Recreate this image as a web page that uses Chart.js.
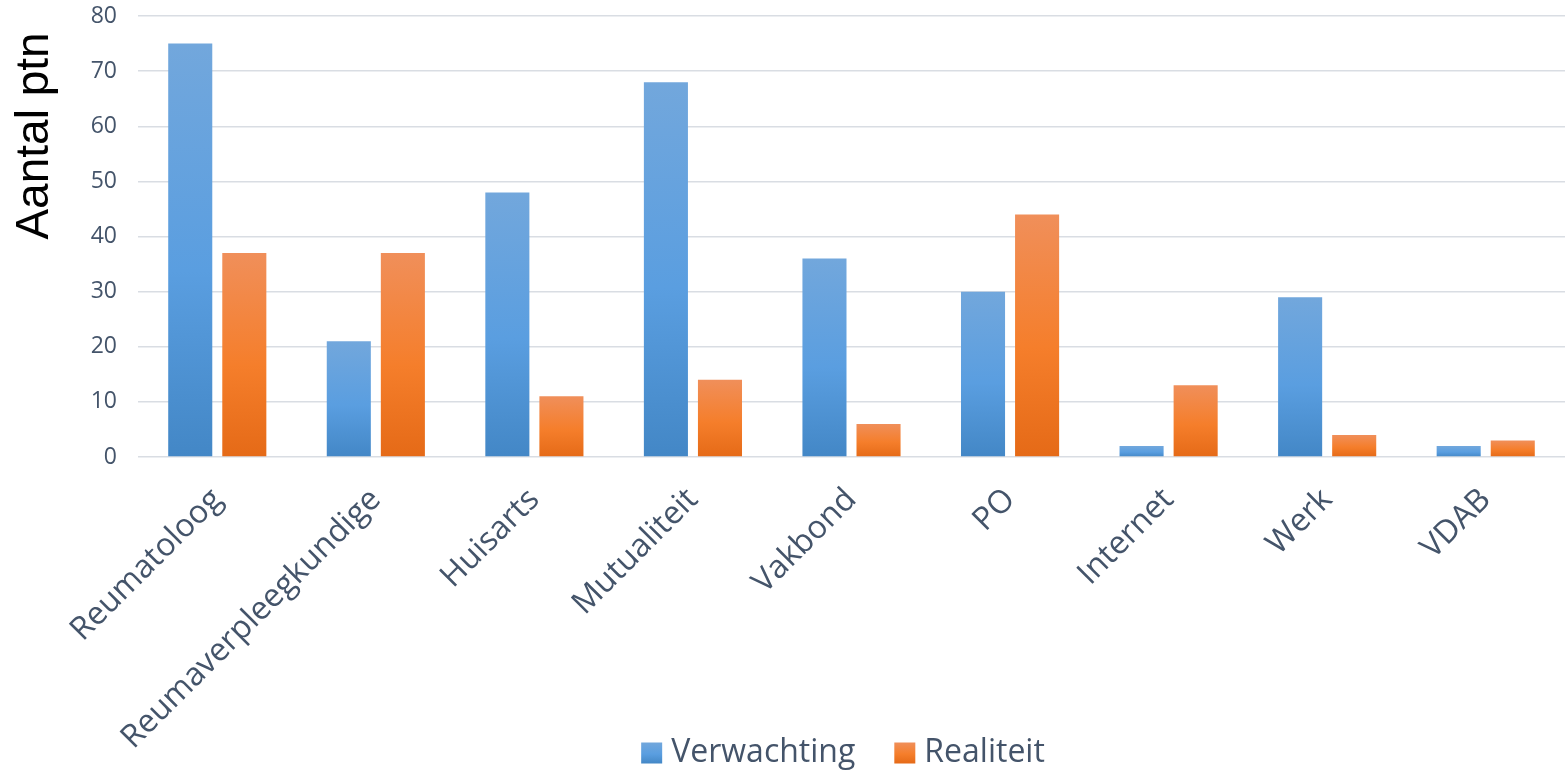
<!DOCTYPE html>
<html>
<head>
<meta charset="utf-8">
<script src="https://cdn.jsdelivr.net/npm/chart.js@4/dist/chart.umd.min.js"></script>
<style>
  html, body { margin:0; padding:0; background:#fff; }
  canvas { display:block; }
</style>
</head>
<body>
<canvas id="c" width="1565" height="772"></canvas>
<script>
// data
const categories = ["Reumatoloog","Reumaverpleegkundige","Huisarts","Mutualiteit","Vakbond","PO","Internet","Werk","VDAB"];
const verwachting = [75, 21, 48, 68, 36, 30, 2, 29, 2];
const realiteit = [37, 37, 11, 14, 6, 44, 13, 4, 3];
const seriesNames = ["Verwachting", "Realiteit"];
const yTitle = "Aantal ptn";

const TXT = "#44546a";
const BLUE = ["#72a7dc", "#5a9ee0", "#4387c6"];
const ORANGE = ["#f08f5a", "#f57e2b", "#e56a17"];
const FONT = "'Open Sans', sans-serif";

function grad(c, top, base, stops){
  const g = c.createLinearGradient(0, top, 0, base);
  g.addColorStop(0, stops[0]); g.addColorStop(0.55, stops[1]); g.addColorStop(1, stops[2]);
  return g;
}

// per-bar vertical gradient, lighter at the top
function barFill(stops){
  return function(ctx){
    const chart = ctx.chart;
    if(ctx.type !== "data" || !chart.chartArea || !chart.scales.y) return stops[1];
    const y = chart.scales.y;
    const top = y.getPixelForValue(ctx.raw), base = y.getPixelForValue(0);
    if(!isFinite(top) || !isFinite(base) || base - top < 1) return stops[1];
    return grad(chart.ctx, top, base, stops);
  };
}

const yTitlePlugin = {
  id: "yTitle",
  afterDraw(chart){
    const c = chart.ctx;
    c.save();
    c.translate(35, 136);
    c.rotate(-Math.PI/2);
    c.font = "46px 'Liberation Sans', Arial, sans-serif";
    c.fillStyle = "#000";
    c.textAlign = "center"; c.textBaseline = "middle";
    c.fillText(yTitle, 0, 0);
    c.restore();
  }
};

// legend drawn by hand so it can sit under the long rotated labels
const legendPlugin = {
  id: "bottomLegend",
  afterDraw(chart){
    const c = chart.ctx;
    const box = 21, gapText = 9, gapItem = 39, cy = 753, cx = 843;
    c.save();
    c.font = "32px " + FONT;
    const w = seriesNames.map(t => c.measureText(t).width);
    const total = w.reduce((a,b)=>a+b,0) + 2*(box+gapText) + gapItem;
    let x = cx - total/2;
    c.textBaseline = "middle"; c.textAlign = "left";
    seriesNames.forEach((name, i) => {
      const st = i ? ORANGE : BLUE;
      c.fillStyle = grad(c, cy-box/2, cy+box/2, st);
      c.fillRect(x, cy - box/2, box, box);
      x += box + gapText;
      c.fillStyle = TXT;
      c.fillText(name, x, cy);
      x += w[i] + gapItem;
    });
    c.restore();
  }
};

new Chart(document.getElementById("c"), {
  type: "bar",
  data: {
    labels: categories,
    datasets: [
      { label: seriesNames[0], data: verwachting, backgroundColor: barFill(BLUE), categoryPercentage: 0.682, barPercentage: 0.815 },
      { label: seriesNames[1], data: realiteit, backgroundColor: barFill(ORANGE), categoryPercentage: 0.682, barPercentage: 0.815 }
    ]
  },
  options: {
    responsive: false,
    animation: false,
    devicePixelRatio: 1,
    layout: { padding: { top: 16, right: 0, left: 0, bottom: 0 } },
    plugins: {
      tooltip: { enabled: false },
      legend: { display: false }
    },
    scales: {
      x: {
        grid: { display: false },
        border: { display: false },
        ticks: {
          font: { family: FONT, size: 32 },
          color: TXT, minRotation: 45, maxRotation: 45, autoSkip: false, padding: 16
        },
        afterFit(s){ s.height = 315; s.paddingLeft = 0; s.paddingRight = 0; s.paddingTop = 0; s.paddingBottom = 0; }
      },
      y: {
        min: 0, max: 80,
        ticks: { stepSize: 10, font: { family: FONT, size: 23 }, color: TXT, padding: 21 },
        grid: { color: "#d9dde3", lineWidth: 1.5, drawTicks: false },
        border: { display: false },
        afterFit(s){ s.width = 138; s.paddingTop = 0; s.paddingBottom = 0; s.paddingLeft = 0; s.paddingRight = 0; }
      }
    }
  },
  plugins: [yTitlePlugin, legendPlugin]
});
</script>
</body>
</html>
